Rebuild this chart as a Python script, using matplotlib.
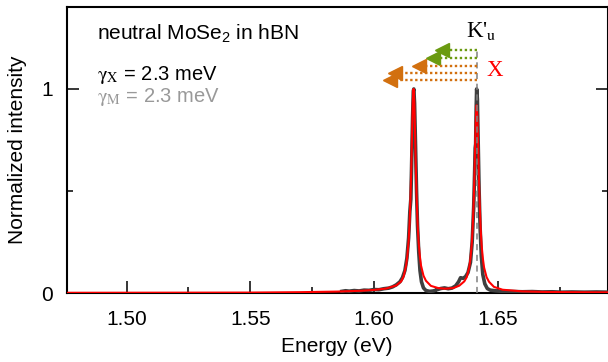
import matplotlib
matplotlib.use("Agg")
import matplotlib.pyplot as plt
from matplotlib.ticker import MultipleLocator

plt.rcParams["font.family"] = ["Liberation Sans", "DejaVu Sans"]
plt.rcParams["mathtext.fontset"] = "custom"
plt.rcParams["mathtext.rm"] = "Liberation Sans"
plt.rcParams["mathtext.it"] = "Liberation Sans:italic"

# measured spectrum (energy in eV, normalized intensity)
data_energy = [1.5870, 1.5885, 1.5900, 1.5920, 1.5940, 1.5960, 1.5980, 1.6000, 1.6020, 1.6040,
               1.6060, 1.6075, 1.6090, 1.6105, 1.6115, 1.6125, 1.6133, 1.6140, 1.6145, 1.6149,
               1.6152, 1.6156, 1.6159, 1.6161, 1.6164, 1.6168, 1.6172, 1.6176, 1.6181, 1.6186,
               1.6192, 1.6200, 1.6210, 1.6225, 1.6240, 1.6255, 1.6270, 1.6285, 1.6300, 1.6315,
               1.6330, 1.6342, 1.6350, 1.6360, 1.6370, 1.6380, 1.6390, 1.6397, 1.6403, 1.6407,
               1.6409, 1.6411, 1.6413, 1.6415, 1.6418, 1.6421, 1.6425, 1.6429, 1.6434, 1.6440,
               1.6448, 1.6458, 1.6470, 1.6490, 1.6510, 1.6540, 1.6570, 1.6600, 1.6640, 1.6680,
               1.6720, 1.6760, 1.6800, 1.6850, 1.6900, 1.6946]
data_intensity = [0.008, 0.011, 0.009, 0.012, 0.010, 0.014, 0.013, 0.017, 0.016, 0.021,
                  0.024, 0.030, 0.040, 0.055, 0.075, 0.110, 0.170, 0.270, 0.400, 0.460,
                  0.620, 0.860, 0.990, 1.000, 0.930, 0.720, 0.500, 0.330, 0.200, 0.110,
                  0.055, 0.025, 0.012, 0.008, 0.010, 0.016, 0.022, 0.025, 0.021, 0.024,
                  0.035, 0.055, 0.075, 0.072, 0.080, 0.100, 0.150, 0.250, 0.420, 0.600,
                  0.710, 0.730, 0.900, 1.000, 0.950, 0.750, 0.500, 0.320, 0.180, 0.090,
                  0.045, 0.022, 0.014, 0.011, 0.009, 0.008, 0.007, 0.006, 0.007, 0.005,
                  0.006, 0.004, 0.005, 0.004, 0.005, 0.004]

# fitted curve
fit_energy = [1.4759, 1.5200, 1.5500, 1.5700, 1.5850, 1.5950, 1.6000, 1.6050, 1.6090, 1.6110,
              1.6120, 1.6130, 1.6135, 1.6140, 1.6144, 1.6148, 1.6151, 1.6154, 1.6157, 1.6160,
              1.6163, 1.6166, 1.6169, 1.6172, 1.6176, 1.6180, 1.6185, 1.6190, 1.6200, 1.6210,
              1.6230, 1.6260, 1.6288, 1.6320, 1.6345, 1.6365, 1.6375, 1.6385, 1.6390, 1.6395,
              1.6399, 1.6403, 1.6406, 1.6409, 1.6412, 1.6415, 1.6418, 1.6421, 1.6424, 1.6427,
              1.6431, 1.6435, 1.6440, 1.6445, 1.6455, 1.6465, 1.6485, 1.6520, 1.6600, 1.6700,
              1.6800, 1.6946]
fit_intensity = [0.001, 0.0015, 0.002, 0.004, 0.007, 0.011, 0.015, 0.022, 0.037, 0.057,
                 0.082, 0.135, 0.185, 0.255, 0.345, 0.485, 0.620, 0.790, 0.940, 1.000,
                 0.940, 0.790, 0.620, 0.485, 0.345, 0.255, 0.185, 0.135, 0.085, 0.060,
                 0.035, 0.024, 0.021, 0.024, 0.036, 0.057, 0.078, 0.125, 0.170, 0.235,
                 0.320, 0.445, 0.570, 0.730, 0.865, 0.920, 0.865, 0.730, 0.570, 0.445,
                 0.320, 0.235, 0.170, 0.125, 0.078, 0.055, 0.030, 0.016, 0.008, 0.005,
                 0.004, 0.003]

# K'u position and arrows (tip energy, height, colour)
k_energy = 1.6415
arrow_tips = [1.6255, 1.6218, 1.6162, 1.6065, 1.6045]
arrow_levels = [1.19, 1.153, 1.114, 1.080, 1.044]
arrow_colors = ["#6a9a10", "#6a9a10", "#d2700f", "#d2700f", "#d2700f"]

fig = plt.figure(figsize=(6.08, 3.62), dpi=100)
ax = fig.add_axes([67 / 608, 0.1906, 1 - 67 / 608, 0.7914])

ax.plot(data_energy, data_intensity, color="#3f3f3f", lw=2.6, zorder=3)
ax.plot(fit_energy, fit_intensity, color="#ff0000", lw=1.5, zorder=4)
ax.plot([k_energy, k_energy], [0, 1.205], color="#808080", lw=1.1,
        dashes=(4, 3), zorder=5)

for tip, lev, col in zip(arrow_tips, arrow_levels, arrow_colors):
    ax.plot([k_energy, tip + 0.002], [lev, lev], color=col, lw=1.7,
            linestyle=(0, (1, 1.1)), zorder=6)
    ax.plot([tip + 0.0021], [lev], marker="<", color=col, ms=9.5, zorder=6, mec=col)

ax.text(1.6372, 1.285, r"K'$_\mathrm{u}$", family="Liberation Serif",
        math_fontfamily="stix", fontsize=16.5, va="center", ha="left", color="black")
ax.text(1.6453, 1.088, "X", family="Liberation Serif", fontsize=16.5, color="#ff0000",
        va="center", ha="left")

ax.text(1.4882, 1.27, r"neutral MoSe$_2$ in hBN", fontsize=15, va="center")
ax.text(1.4882, 1.07, r"$\mathrm{γ}_\mathrm{X}$ = 2.3 meV", math_fontfamily="stix",
        fontsize=14.5, va="center", color="black")
ax.text(1.4882, 0.962, r"$\mathrm{γ}_\mathrm{M}$ = 2.3 meV", math_fontfamily="stix",
        fontsize=14.5, va="center", color="#999999")

ax.set_xlim(1.4759, 1.6946)
ax.set_ylim(0, 1.404)
ax.xaxis.set_major_locator(MultipleLocator(0.05))
ax.xaxis.set_minor_locator(MultipleLocator(0.025))
ax.yaxis.set_major_locator(MultipleLocator(1))
ax.yaxis.set_minor_locator(MultipleLocator(0.5))
ax.xaxis.set_major_formatter(plt.FormatStrFormatter("%.2f"))
ax.tick_params(which="both", direction="in", left=True, right=True, top=False,
               width=1.1, labelsize=15)
ax.tick_params(which="major", length=8.6)
ax.tick_params(which="minor", length=4.3)
ax.tick_params(axis="x", pad=12)
ax.tick_params(axis="y", pad=10)
for sp in ax.spines.values():
    sp.set_linewidth(1.5)

ax.set_xlabel("Energy (eV)", fontsize=15)
ax.set_ylabel("Normalized intensity", fontsize=15)
ax.xaxis.set_label_coords(0.499, -0.185)
ax.xaxis.label.set_va("center")
ax.yaxis.set_label_coords(-0.092, 0.5)
ax.yaxis.label.set_va("center")

fig.savefig("out.png", dpi=100)
